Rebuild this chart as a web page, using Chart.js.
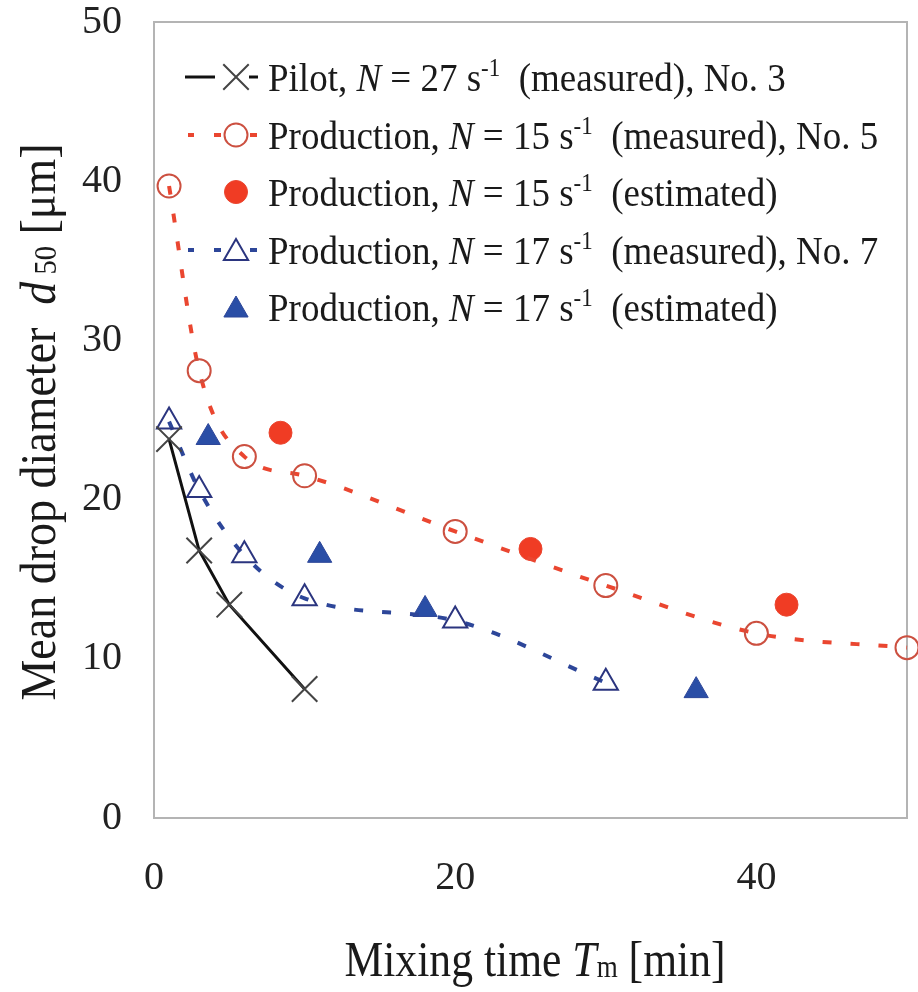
<!DOCTYPE html>
<html>
<head>
<meta charset="utf-8">
<script src="https://cdn.jsdelivr.net/npm/chart.js@4.4.0/dist/chart.umd.min.js"></script>
<style>
html, body { margin: 0; padding: 0; background: #fff; }
#wrap { width: 918px; height: 992px; }
</style>
</head>
<body>
<div id="wrap"><canvas id="chart"></canvas></div>
<script>
// mixing time [min] vs mean drop diameter d50 [um]
const pilotTime = [1, 3, 5, 10];
const pilotD50 = [23.8, 16.8, 13.4, 8.1];
const prod15Time = [1, 3, 6, 10, 20, 30, 40, 50];
const prod15D50 = [39.7, 28.1, 22.7, 21.5, 18.0, 14.6, 11.6, 10.7];
const prod15EstTime = [8.4, 25, 42];
const prod15EstD50 = [24.2, 16.9, 13.4];
const prod17Time = [1, 3, 6, 10, 20, 30];
const prod17D50 = [24.9, 20.6, 16.5, 13.8, 12.4, 8.5];
const prod17EstTime = [3.6, 11, 18, 36];
const prod17EstD50 = [23.9, 16.5, 13.1, 8.0];

const xTicks = [0, 20, 40];
const yTicks = [0, 10, 20, 30, 40, 50];

const seriesPrefix = ['Pilot, ', 'Production, ', 'Production, ', 'Production, ', 'Production, '];
const seriesSpeed = ['27', '15', '15', '17', '17'];
const seriesNote = ['(measured), No. 3', '(measured), No. 5', '(estimated)', '(measured), No. 7', '(estimated)'];

const SERIF = '"Liberation Serif", "DejaVu Serif", serif';
const RED = '#ea4630';
const RED_EDGE = '#cc5040';
const BLUE = '#2d4699';
const BLUE_EDGE = '#2b357f';

const pts = (xs, ys) => xs.map((x, i) => ({ x: x, y: ys[i] }));

const datasets = [
    {
        label: 'pilot',
        data: pts(pilotTime, pilotD50),
        showLine: true,
        borderColor: '#111',
        borderWidth: 3,
        tension: 0,
        pointStyle: 'crossRot',
        pointRadius: 18,
        pointBorderWidth: 2,
        pointBorderColor: '#444',
        pointBackgroundColor: 'rgba(0,0,0,0)'
    },
    {
        label: 'prod15',
        data: pts(prod15Time, prod15D50),
        showLine: true,
        borderColor: RED,
        borderWidth: 4,
        borderDash: [9, 19],
        cubicInterpolationMode: 'monotone',
        pointStyle: 'circle',
        pointRadius: 11.5,
        pointBorderWidth: 2,
        pointBorderColor: RED_EDGE,
        pointBackgroundColor: 'rgba(0,0,0,0)',
        clip: false
    },
    {
        label: 'prod15est',
        data: pts(prod15EstTime, prod15EstD50),
        showLine: false,
        pointStyle: 'circle',
        pointRadius: 11.5,
        pointBorderWidth: 1,
        pointBorderColor: RED,
        pointBackgroundColor: '#f03c24'
    },
    {
        label: 'prod17',
        data: pts(prod17Time, prod17D50),
        showLine: true,
        borderColor: BLUE,
        borderWidth: 4,
        borderDash: [9, 19],
        cubicInterpolationMode: 'monotone',
        pointStyle: 'triangle',
        pointRadius: 14,
        pointBorderWidth: 2,
        pointBorderColor: BLUE_EDGE,
        pointBackgroundColor: 'rgba(0,0,0,0)'
    },
    {
        label: 'prod17est',
        data: pts(prod17EstTime, prod17EstD50),
        showLine: false,
        pointStyle: 'triangle',
        pointRadius: 14,
        pointBorderWidth: 1,
        pointBorderColor: BLUE,
        pointBackgroundColor: '#2a4ea6'
    }
];

// text pieces: {t, it, sup, sub}
function richWidth(ctx, pieces, size) {
    let w = 0;
    pieces.forEach(p => {
        const s = (p.sup || p.sub) ? size * 0.62 : size;
        ctx.font = (p.it ? 'italic ' : '') + s + 'px ' + SERIF;
        w += ctx.measureText(p.t).width;
    });
    return w;
}

function drawRich(ctx, x, y, pieces, size, sx, sy) {
    ctx.save();
    ctx.translate(x, y);
    ctx.scale(sx, sy || 1);
    ctx.textBaseline = 'alphabetic';
    ctx.textAlign = 'left';
    let cx = 0;
    pieces.forEach(p => {
        const s = (p.sup || p.sub) ? size * 0.62 : size;
        ctx.font = (p.it ? 'italic ' : '') + s + 'px ' + SERIF;
        let dy = 0;
        if (p.sup) dy = -size * 0.36;
        if (p.sub) dy = size * 0.02;
        ctx.fillText(p.t, cx, dy);
        cx += ctx.measureText(p.t).width;
    });
    ctx.restore();
}

function marker(ctx, style, x, y, r, fill, stroke, lw) {
    ctx.save();
    ctx.beginPath();
    if (style === 'circle') {
        ctx.arc(x, y, r, 0, Math.PI * 2);
    } else if (style === 'triangle') {
        ctx.moveTo(x, y - r);
        ctx.lineTo(x + r * Math.sin(Math.PI * 2 / 3), y + r / 2);
        ctx.lineTo(x - r * Math.sin(Math.PI * 2 / 3), y + r / 2);
        ctx.closePath();
    } else {
        const d = r * Math.SQRT1_2;
        ctx.moveTo(x - d, y - d); ctx.lineTo(x + d, y + d);
        ctx.moveTo(x - d, y + d); ctx.lineTo(x + d, y - d);
    }
    if (fill) { ctx.fillStyle = fill; ctx.fill(); }
    ctx.lineWidth = lw;
    ctx.strokeStyle = stroke;
    ctx.stroke();
    ctx.restore();
}

function seg(ctx, x1, x2, y, color, w) {
    ctx.save();
    ctx.beginPath();
    ctx.moveTo(x1, y);
    ctx.lineTo(x2, y);
    ctx.strokeStyle = color;
    ctx.lineWidth = w;
    ctx.stroke();
    ctx.restore();
}

const plotBox = {
    id: 'plotBox',
    beforeDatasetsDraw(chart) {
        const a = chart.chartArea;
        const ctx = chart.ctx;
        ctx.save();
        ctx.strokeStyle = '#b4b4b4';
        ctx.lineWidth = 2;
        ctx.strokeRect(a.left, a.top, a.right - a.left, a.bottom - a.top);
        ctx.restore();
    }
};

const annotations = {
    id: 'annotations',
    afterDraw(chart) {
        const ctx = chart.ctx;
        ctx.save();
        ctx.fillStyle = '#1a1a1a';

        // legend
        const rowY = [77, 135, 192, 250, 307];
        const mx = 236;
        rowY.forEach((y, i) => {
            if (i === 0) {
                seg(ctx, 185, 215, y, '#111', 3);
                seg(ctx, 249, 258, y, '#111', 3);
                marker(ctx, 'cross', mx, y, 18, null, '#444', 2);
            } else if (i === 1 || i === 3) {
                const c = i === 1 ? RED : BLUE;
                seg(ctx, 188, 194, y, c, 4);
                seg(ctx, 214, 221, y, c, 4);
                seg(ctx, 250, 257, y, c, 4);
                if (i === 1) marker(ctx, 'circle', mx, y, 11.5, null, RED_EDGE, 2);
                else marker(ctx, 'triangle', mx, y + 3, 14, null, BLUE_EDGE, 2);
            } else if (i === 2) {
                marker(ctx, 'circle', mx, y, 11.5, '#f03c24', RED, 1);
            } else {
                marker(ctx, 'triangle', mx, y + 3, 14, '#2a4ea6', BLUE, 1);
            }
            const pieces = [
                { t: seriesPrefix[i] },
                { t: 'N', it: true },
                { t: ' = ' + seriesSpeed[i] + ' s' },
                { t: '-1', sup: true },
                { t: '  ' + seriesNote[i] }
            ];
            drawRich(ctx, 268, y + 14, pieces, 37, 1.0, 1.1);
        });

        // x axis title
        const xt = [
            { t: 'Mixing time ' },
            { t: 'T', it: true },
            { t: 'm', sub: true },
            { t: ' [min]' }
        ];
        const xs = 45, xsx = 0.97;
        const xw = richWidth(ctx, xt, xs) * xsx;
        drawRich(ctx, 535 - xw / 2, 976, xt, xs, xsx, 1.12);

        // y axis title
        const yt = [
            { t: 'Mean drop diameter  ' },
            { t: 'd', it: true },
            { t: ' 50', sub: true },
            { t: ' [\u03bcm]' }
        ];
        const ys = 46, ysx = 1.0;
        const yw = richWidth(ctx, yt, ys) * ysx;
        ctx.save();
        ctx.translate(55, 422);
        ctx.rotate(-Math.PI / 2);
        drawRich(ctx, -yw / 2, 0, yt, ys, ysx, 1.08);
        ctx.restore();

        ctx.restore();
    }
};

const ctx = document.getElementById('chart').getContext('2d');
const chart = new Chart(ctx, {
    type: 'scatter',
    data: { datasets: datasets },
    plugins: [plotBox, annotations],
    options: {
        responsive: true,
        maintainAspectRatio: false,
        animation: false,
        layout: { autoPadding: false, padding: { left: 0, top: 22, right: 11, bottom: 0 } },
        scales: {
            x: {
                type: 'linear',
                min: 0,
                max: 50,
                afterBuildTicks: s => { s.ticks = xTicks.map(v => ({ value: v })); },
                afterFit: s => { s.height = 174; s.paddingLeft = 0; s.paddingRight = 0; },
                grid: { display: false, drawTicks: false },
                border: { display: false },
                ticks: {
                    padding: 36,
                    color: '#222',
                    font: { family: SERIF, size: 40 }
                }
            },
            y: {
                type: 'linear',
                min: 0,
                max: 50,
                afterBuildTicks: s => { s.ticks = yTicks.map(v => ({ value: v })); },
                afterFit: s => { s.width = 154; s.paddingTop = 0; s.paddingBottom = 0; },
                grid: { display: false, drawTicks: false },
                border: { display: false },
                ticks: {
                    padding: 32,
                    color: '#222',
                    font: { family: SERIF, size: 40 }
                }
            }
        },
        plugins: {
            legend: { display: false },
            tooltip: { enabled: false },
            title: { display: false }
        }
    }
});
</script>
</body>
</html>
